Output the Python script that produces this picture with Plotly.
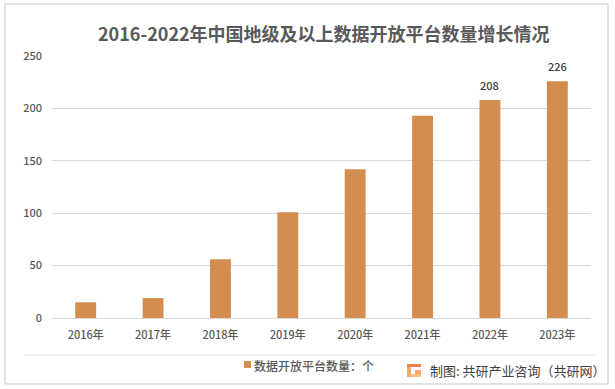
import plotly.graph_objects as go

years = ["2016年", "2017年", "2018年", "2019年", "2020年", "2021年", "2022年", "2023年"]
values = [15, 19, 56, 101, 142, 193, 208, 226]
labels = ["", "", "", "", "", "", "208", "226"]
W, H = 615, 389
FONT = "Noto Sans CJK SC"
GREY = "#595959"
BAR = "#D38D4E"

def rect(x0, x1, y0, y1, color):
    return dict(type="rect", xref="paper", yref="paper", x0=x0/W, x1=x1/W, y0=1-y1/H, y1=1-y0/H,
                line=dict(width=0), fillcolor=color)

fig = go.Figure(go.Bar(
    x=years, y=values, width=0.31, marker=dict(color=BAR, line=dict(width=0)),
    name="数据开放平台数量：个", showlegend=False))

value_labels = [
    dict(text=t, x=x, y=v, xref="x", yref="y", showarrow=False, yanchor="bottom", yshift=5,
         font=dict(family=FONT, size=11, weight=500, color="#404040"))
    for x, v, t in zip(years, values, labels) if t
]

fig.update_layout(
    width=W, height=H, margin=dict(l=0, r=0, t=0, b=0),
    paper_bgcolor="white", plot_bgcolor="white", bargap=0.69,
    xaxis=dict(domain=[52/W, 591/W], automargin=False,
               tickfont=dict(family=FONT, size=11, weight=500, color=GREY), ticklabelstandoff=9,
               showgrid=False, showline=False, ticks="", zeroline=False, fixedrange=True),
    yaxis=dict(domain=[1-318/H, 1-56/H], automargin=False, range=[0, 250], dtick=50,
               tickfont=dict(family=FONT, size=11, weight=500, color=GREY), ticklabelstandoff=9,
               showgrid=True, gridcolor="#D9D9D9", gridwidth=1, zeroline=True,
               zerolinecolor="#D9D9D9", zerolinewidth=1, showline=False, ticks="", fixedrange=True),
    annotations=value_labels + [
        dict(text="<b>2016-2022年中国地级及以上数据开放平台数量增长情况</b>", xref="paper", yref="paper",
             x=324.5/W, y=1-32.5/H, showarrow=False, xanchor="center", yanchor="middle",
             font=dict(family=FONT, size=18, color=GREY)),
        dict(text="数据开放平台数量：个", xref="paper", yref="paper", x=252/W, y=1-365/H,
             showarrow=False, xanchor="left", yanchor="middle",
             font=dict(family=FONT, size=12, weight=500, color=GREY)),
        dict(text="制图: 共研产业咨询（共研网）", xref="paper", yref="paper", x=428/W, y=1-370/H,
             showarrow=False, xanchor="left", yanchor="middle",
             font=dict(family=FONT, size=13, color="#404040")),
    ],
    shapes=[
        dict(type="rect", xref="paper", yref="paper", x0=5/W, x1=608/W, y0=1-384/H, y1=1-4/H,
             line=dict(color="#D9D9D9", width=1.5), fillcolor="rgba(0,0,0,0)"),
        dict(type="line", xref="paper", yref="paper", x0=24/W, x1=597/W, y0=1-355/H, y1=1-355/H,
             line=dict(color="#E8E8E8", width=1)),
        rect(244, 251, 361, 368, BAR),
        rect(407, 421, 364, 367, "#F0804A"),
        rect(407, 411, 367, 377, "#F8A868"),
        rect(411, 421, 374, 377, "#FBC080"),
        rect(415, 421, 370, 374, "#F8A868"),
    ],
)
fig.write_html("out.html", config=dict(displayModeBar=False),
               post_script="document.body.style.margin='0';document.documentElement.style.overflow='hidden';")
